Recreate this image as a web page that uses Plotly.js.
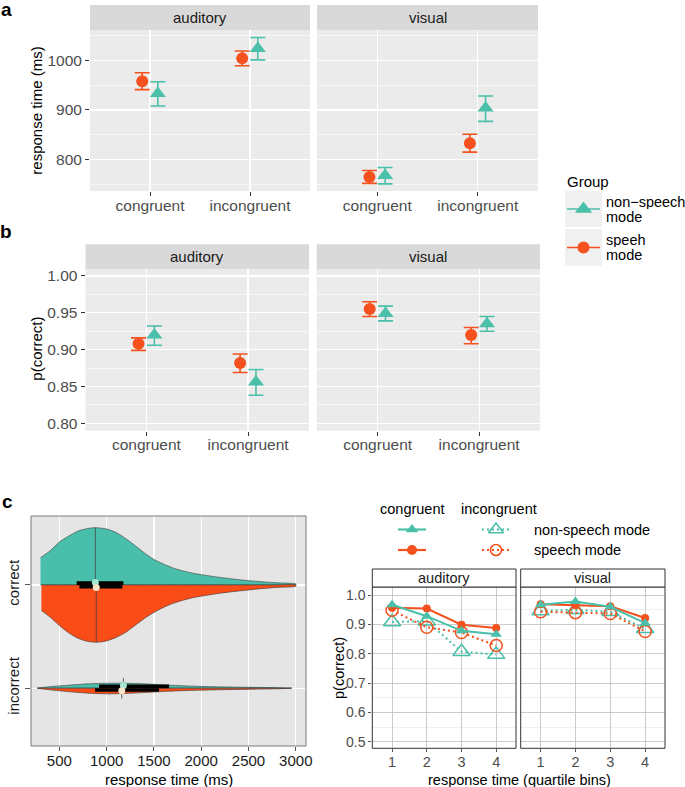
<!DOCTYPE html>
<html><head><meta charset="utf-8">
<script src="https://cdn.plot.ly/plotly-3.0.1.min.js"></script>
<style>html,body{margin:0;padding:0;background:#fff}#chart{width:685px;height:787px}</style>
</head><body><div id="chart"></div>
<script>
// ---------------- data ----------------
const conditions = ['congruent', 'incongruent'];
const modalities = ['auditory', 'visual'];
const groupLabels = [['non\u2212speech', 'mode'], ['speeh', 'mode']];

// panel a: response time (ms): mean, lower, upper
const rtAudSpeech = [958, 1004];
const rtAudSpeechLo = [941, 989];
const rtAudSpeechHi = [975, 1019];
const rtAudNon = [933, 1024];
const rtAudNonLo = [908, 1001];
const rtAudNonHi = [957, 1046];
const rtVisSpeech = [765, 833];
const rtVisSpeechLo = [752, 815];
const rtVisSpeechHi = [778, 851];
const rtVisNon = [768, 904];
const rtVisNonLo = [751, 877];
const rtVisNonHi = [784, 928];
const rtTicks = [800, 900, 1000];
const rtMinor = [750, 850, 950, 1050];

// panel b: p(correct): mean, lower, upper
const pcAudSpeech = [0.908, 0.882];
const pcAudSpeechLo = [0.899, 0.869];
const pcAudSpeechHi = [0.916, 0.894];
const pcAudNon = [0.920, 0.856];
const pcAudNonLo = [0.906, 0.838];
const pcAudNonHi = [0.932, 0.873];
const pcVisSpeech = [0.955, 0.920];
const pcVisSpeechLo = [0.945, 0.908];
const pcVisSpeechHi = [0.965, 0.930];
const pcVisNon = [0.949, 0.935];
const pcVisNonLo = [0.939, 0.925];
const pcVisNonHi = [0.959, 0.945];
const pcTicks = [0.80, 0.85, 0.90, 0.95, 1.00];
const pcTickText = ['0.80', '0.85', '0.90', '0.95', '1.00'];
const pcMinor = [0.825, 0.875, 0.925, 0.975];

// panel c (left): split violins of response time by accuracy
const violinCats = ['correct', 'incorrect'];
const corrNonRT = [300,400,500,600,700,800,880,1000,1100,1200,1300,1400,1500,1600,1700,1800,1900,2000,2200,2400,2600,2800,3000];
const corrNonW  = [.264,.329,.416,.474,.523,.547,.555,.542,.508,.450,.382,.310,.247,.203,.165,.138,.116,.100,.073,.051,.034,.021,.010];
const corrSpRT  = [310,400,500,600,700,800,890,1000,1100,1200,1300,1400,1500,1600,1700,1800,1900,2000,2200,2400,2600,2800,3000];
const corrSpW   = [.247,.310,.392,.465,.518,.547,.555,.542,.508,.460,.392,.324,.266,.218,.179,.150,.126,.109,.080,.058,.039,.024,.012];
const incNonRT  = [265,400,600,800,1000,1200,1400,1600,1800,2000,2400,2800,2955];
const incNonW   = [0,.015,.029,.042,.048,.048,.042,.032,.024,.017,.010,.005,0];
const incSpRT   = [265,400,600,800,1000,1200,1400,1600,1800,2000,2400,2800,2955];
const incSpW    = [0,.016,.034,.048,.055,.051,.042,.032,.024,.019,.012,.006,0];
// order: correct non-speech, correct speech, incorrect non-speech, incorrect speech
const boxQ1  = [683, 712, 920, 877];
const boxQ3  = [1177, 1166, 1660, 1554];
const boxMed = [880, 890, 1177, 1160];
const rtAxisTicks = [500, 1000, 1500, 2000, 2500, 3000];

// panel c (right): p(correct) by response-time quartile bin
const quartiles = [1, 2, 3, 4];
const audCongSpeech = [0.957, 0.954, 0.899, 0.888];
const audCongNon    = [0.967, 0.928, 0.878, 0.866];
const audIncSpeech  = [0.948, 0.890, 0.872, 0.828];
const audIncNon     = [0.908, 0.911, 0.807, 0.797];
const visCongSpeech = [0.969, 0.965, 0.962, 0.922];
const visCongNon    = [0.967, 0.978, 0.960, 0.904];
const visIncSpeech  = [0.943, 0.940, 0.937, 0.876];
const visIncNon     = [0.946, 0.950, 0.943, 0.885];
const qTicks = [0.5, 0.6, 0.7, 0.8, 0.9, 1.0];
const qTickText = ['0.5', '0.6', '0.7', '0.8', '0.9', '1.0'];
const qMinor = [0.55, 0.65, 0.75, 0.85, 0.95];

// ---------------- helpers ----------------
const W = 685, H = 787;
const X = p => p / W, Y = p => 1 - p / H;
const TEAL = '#4ABFA9', ORANGE = '#F4511E';
const VTEAL = '#49BEAA', VORANGE = '#FA4C17';
const FONT = 'Liberation Sans, Arial, Helvetica, sans-serif';
const traces = [];
const shapes = [];
const annotations = [];

function ann(text, x, y, opts) {
  annotations.push(Object.assign({text, x: X(x), y: Y(y), xref: 'paper', yref: 'paper',
    showarrow: false, xanchor: 'center', yanchor: 'middle',
    font: {family: FONT, size: 15, color: '#000'}}, opts || {}));
}
function rect(x0, y0, x1, y1, fill, line, layer) {
  shapes.push({type: 'rect', xref: 'paper', yref: 'paper', x0: X(x0), x1: X(x1), y0: Y(y1), y1: Y(y0),
    fillcolor: fill, line: line || {width: 0}, layer: layer || 'below'});
}

function errTrace(xa, ya, mean, lo, hi, color, symbol, size, off) {
  return {type: 'scatter', mode: 'markers', xaxis: xa, yaxis: ya,
    x: conditions.map((c, i) => i + 1 + off), y: mean,
    error_y: {type: 'data', symmetric: false, array: hi.map((h, i) => h - mean[i]),
      arrayminus: lo.map((l, i) => mean[i] - l), color: color, thickness: 1.6, width: 7.5},
    marker: {color: color, symbol: symbol, size: size, line: {width: 0}},
    showlegend: false, hoverinfo: 'skip', cliponaxis: false};
}

// ---------------- panel a & b ----------------
const D = 0.078;
traces.push(errTrace('x', 'y', rtAudSpeech, rtAudSpeechLo, rtAudSpeechHi, ORANGE, 'circle', 12, -D));
traces.push(errTrace('x', 'y', rtAudNon, rtAudNonLo, rtAudNonHi, TEAL, 'triangle-up', 14, D));
traces.push(errTrace('x2', 'y', rtVisSpeech, rtVisSpeechLo, rtVisSpeechHi, ORANGE, 'circle', 12, -D));
traces.push(errTrace('x2', 'y', rtVisNon, rtVisNonLo, rtVisNonHi, TEAL, 'triangle-up', 14, D));
traces.push(errTrace('x3', 'y3', pcAudSpeech, pcAudSpeechLo, pcAudSpeechHi, ORANGE, 'circle', 12, -D));
traces.push(errTrace('x3', 'y3', pcAudNon, pcAudNonLo, pcAudNonHi, TEAL, 'triangle-up', 14, D));
traces.push(errTrace('x4', 'y3', pcVisSpeech, pcVisSpeechLo, pcVisSpeechHi, ORANGE, 'circle', 12, -D));
traces.push(errTrace('x4', 'y3', pcVisNon, pcVisNonLo, pcVisNonHi, TEAL, 'triangle-up', 14, D));

const ggTick = {ticks: 'outside', ticklen: 4, tickcolor: '#333', tickwidth: 1,
  tickfont: {family: FONT, size: 15.5, color: '#4D4D4D'}, zeroline: false, showline: false, fixedrange: true};
function ggX(d0, d1, anchor) {
  return Object.assign({domain: [X(d0), X(d1)], anchor: anchor, range: [0.4, 2.6],
    tickvals: [1, 2], ticktext: conditions, showgrid: true, gridcolor: '#fff', gridwidth: 1.2,
    ticklabelstandoff: -4}, ggTick);
}

// ggplot panel backgrounds and strips
[[90, 310], [317, 538]].forEach((p, i) => {
  rect(p[0], 30, p[1], 191, '#EBEBEB');
  rect(p[0], 5, p[1], 30, '#D9D9D9');
  ann(modalities[i], (p[0] + p[1]) / 2, 17.5, {font: {family: FONT, size: 15, color: '#1A1A1A'}});
});
[[85.5, 309], [316.7, 540]].forEach((p, i) => {
  rect(p[0], 269.3, p[1], 430.7, '#EBEBEB');
  rect(p[0], 244.3, p[1], 269.3, '#D9D9D9');
  ann(modalities[i], (p[0] + p[1]) / 2, 256.8, {font: {family: FONT, size: 15, color: '#1A1A1A'}});
});

// ---------------- panel c left: violins ----------------
function interp(xs, ys, v) {
  for (let i = 0; i < xs.length - 1; i++) {
    if (v >= xs[i] && v <= xs[i + 1]) return ys[i] + (ys[i + 1] - ys[i]) * (v - xs[i]) / (xs[i + 1] - xs[i]);
  }
  return 0;
}
function halfViolin(rt, w, center, sign, color) {
  const xs = rt.concat(rt.slice().reverse());
  const ys = rt.map((_, i) => center + sign * w[i]).concat(rt.map(() => center));
  return {type: 'scatter', mode: 'lines', x: xs, y: ys, fill: 'toself', fillcolor: color,
    line: {color: '#3A3A3A', width: 0.6, shape: 'spline', smoothing: 0.7},
    xaxis: 'x5', yaxis: 'y5', hoverinfo: 'skip', showlegend: false};
}
const cCorr = violinCats.length - violinCats.indexOf('correct');
const cInc = violinCats.length - violinCats.indexOf('incorrect');
const vdefs = [
  [corrNonRT, corrNonW, cCorr, 1, VTEAL, '#A4E6D0'],
  [corrSpRT, corrSpW, cCorr, -1, VORANGE, '#FBE4C8'],
  [incNonRT, incNonW, cInc, 1, VTEAL, '#A4E6D0'],
  [incSpRT, incSpW, cInc, -1, VORANGE, '#FBE4C8']
];
vdefs.forEach(v => traces.push(halfViolin(v[0], v[1], v[2], v[3], v[4])));
const BT = 0.035;
vdefs.forEach((v, i) => {
  const c = v[2], s = v[3];
  const hgt = Math.max(interp(v[0], v[1], boxMed[i]), 0.1);
  traces.push({type: 'scatter', mode: 'lines', x: [boxMed[i], boxMed[i]], y: [c, c + s * hgt],
    line: {color: '#444', width: 0.8}, xaxis: 'x5', yaxis: 'y5', hoverinfo: 'skip', showlegend: false});
});
vdefs.forEach((v, i) => {
  const c = v[2], s = v[3];
  traces.push({type: 'scatter', mode: 'lines', x: [boxQ1[i], boxQ3[i], boxQ3[i], boxQ1[i], boxQ1[i]],
    y: [c, c, c + s * BT, c + s * BT, c], fill: 'toself', fillcolor: '#000', line: {width: 0, color: '#000'},
    xaxis: 'x5', yaxis: 'y5', hoverinfo: 'skip', showlegend: false});
});
vdefs.forEach((v, i) => {
  const c = v[2], s = v[3];
  traces.push({type: 'scatter', mode: 'markers', x: [boxMed[i]], y: [c + s * 0.025],
    marker: {color: v[5], size: 7, line: {width: 0}}, xaxis: 'x5', yaxis: 'y5', hoverinfo: 'skip', showlegend: false, cliponaxis: false});
});
rect(31, 516, 306, 746, '#E5E5E5');
rect(31, 516, 306, 746, 'rgba(0,0,0,0)', {color: '#7A7A7A', width: 1}, 'above');

// ---------------- panel c right: lines ----------------
function qTrace(xa, vals, color, dash, symbol, size, lw) {
  return {type: 'scatter', mode: 'lines+markers', xaxis: xa, yaxis: 'y6', x: quartiles, y: vals,
    line: {color: color, width: 2, dash: dash},
    marker: {color: color, symbol: symbol, size: size, line: {color: color, width: lw}},
    hoverinfo: 'skip', showlegend: false, cliponaxis: false};
}
const DOT = '2px,3px';
[['x6', audIncNon, audIncSpeech, audCongSpeech, audCongNon], ['x7', visIncNon, visIncSpeech, visCongSpeech, visCongNon]].forEach(p => {
  traces.push(qTrace(p[0], p[1], TEAL, DOT, 'triangle-up-open', 15, 1.5));
  traces.push(qTrace(p[0], p[2], ORANGE, DOT, 'circle-open', 12, 1.5));
  traces.push(qTrace(p[0], p[3], ORANGE, 'solid', 'circle', 8, 0));
  traces.push(qTrace(p[0], p[4], TEAL, 'solid', 'triangle-up', 10, 0));
});
[[372.3, 516], [520.7, 665]].forEach((p, i) => {
  rect(p[0], 587, p[1], 748.3, '#FFFFFF');
  rect(p[0], 587, p[1], 748.3, 'rgba(0,0,0,0)', {color: '#333', width: 1}, 'above');
  rect(p[0], 569, p[1], 587, '#FFFFFF', {color: '#333', width: 1}, 'above');
  ann(modalities[i], (p[0] + p[1]) / 2, 578, {font: {family: FONT, size: 14.5, color: '#1A1A1A'}});
});

// legend for panel c right (hidden axis in pixel units)
function key(x0, x1, y, color, dash, symbol, size, lw) {
  traces.push({type: 'scatter', mode: 'lines', x: [x0, x1], y: [y, y], xaxis: 'x8', yaxis: 'y8',
    line: {color: color, width: 2.2, dash: dash}, hoverinfo: 'skip', showlegend: false});
  traces.push({type: 'scatter', mode: 'markers', x: [(x0 + x1) / 2], y: [y], xaxis: 'x8', yaxis: 'y8',
    marker: {color: color, symbol: symbol, size: size, line: {color: color, width: lw}}, hoverinfo: 'skip', showlegend: false, cliponaxis: false});
}
key(398, 426, 529.5, TEAL, 'solid', 'triangle-up', 11, 0);
key(398, 426, 550, ORANGE, 'solid', 'circle', 10, 0);
key(482, 510, 529.5, TEAL, DOT, 'triangle-up-open', 13, 1.6);
key(482, 510, 550, ORANGE, DOT, 'circle-open', 11, 1.6);
ann('congruent', 413, 509, {font: {family: FONT, size: 14.5, color: '#000'}});
ann('incongruent', 499, 509, {font: {family: FONT, size: 14.5, color: '#000'}});
ann('non-speech mode', 532, 529.5, {xanchor: 'left', font: {family: FONT, size: 14.5, color: '#000'}});
ann('speech mode', 532, 550, {xanchor: 'left', font: {family: FONT, size: 14.5, color: '#000'}});

// legend for panels a/b
rect(565, 191, 602, 227, '#F0F0F0');
rect(565, 229.3, 602, 265.7, '#F0F0F0');
function key9(y, color, symbol, size) {
  traces.push({type: 'scatter', mode: 'lines', x: [567, 600], y: [y, y], xaxis: 'x9', yaxis: 'y9',
    line: {color: color, width: 1.6}, hoverinfo: 'skip', showlegend: false});
  traces.push({type: 'scatter', mode: 'markers', x: [583.5], y: [y], xaxis: 'x9', yaxis: 'y9',
    marker: {color: color, symbol: symbol, size: size, line: {width: 0}}, hoverinfo: 'skip', showlegend: false, cliponaxis: false});
}
key9(209, TEAL, 'triangle-up', 15);
key9(247.5, ORANGE, 'circle', 12);
const legFont = {family: FONT, size: 14.5, color: '#000'};
ann('Group', 565, 181, {xanchor: 'left', font: {family: FONT, size: 15, color: '#000'}});
ann(groupLabels[0][0], 604, 201.5, {xanchor: 'left', font: legFont, height: 15});
ann(groupLabels[0][1], 604, 217, {xanchor: 'left', font: legFont, height: 15});
ann(groupLabels[1][0], 604, 239.5, {xanchor: 'left', font: legFont, height: 15});
ann(groupLabels[1][1], 604, 255, {xanchor: 'left', font: legFont, height: 15});

// axis titles and panel letters
ann('response time (ms)', 36.7, 111, {textangle: -90});
ann('p(correct)', 36.7, 349, {textangle: -90});
ann('response time (ms)', 168.5, 779);
ann('response time (quartile bins)', 519, 780, {font: {family: FONT, size: 14.5, color: '#000'}});
ann('p(correct)', 339, 668, {textangle: -90, font: {family: FONT, size: 14.5, color: '#000'}});
ann('<b>a</b>', 6, 9, {font: {family: FONT, size: 19, color: '#000'}});
ann('<b>b</b>', 6, 232, {font: {family: FONT, size: 19, color: '#000'}});
ann('<b>c</b>', 7, 501, {font: {family: FONT, size: 19, color: '#000'}});

// ---------------- layout ----------------
const layout = {
  width: W, height: H, margin: {l: 0, r: 0, t: 0, b: 0},
  paper_bgcolor: '#fff', plot_bgcolor: 'rgba(0,0,0,0)', showlegend: false,
  font: {family: FONT},
  xaxis: ggX(90, 310, 'y'),
  xaxis2: ggX(317, 538, 'y'),
  yaxis: Object.assign({domain: [Y(191), Y(30)], anchor: 'x', range: [736.6, 1061.2], tickvals: rtTicks,
    showgrid: true, gridcolor: '#fff', gridwidth: 1.2,
    minor: {tickvals: rtMinor, showgrid: true, gridcolor: '#fff', gridwidth: 0.6, ticks: ''}}, ggTick),
  xaxis3: ggX(85.5, 309, 'y3'),
  xaxis4: ggX(316.7, 540, 'y3'),
  yaxis3: Object.assign({domain: [Y(430.7), Y(269.3)], anchor: 'x3', range: [0.790, 1.009], tickvals: pcTicks, ticktext: pcTickText,
    showgrid: true, gridcolor: '#fff', gridwidth: 1.2,
    minor: {tickvals: pcMinor, showgrid: true, gridcolor: '#fff', gridwidth: 0.6, ticks: ''}}, ggTick),
  xaxis5: {domain: [X(31), X(306)], anchor: 'y5', range: [200, 3108], tickvals: rtAxisTicks,
    showgrid: true, gridcolor: '#fff', gridwidth: 1.2, zeroline: false, showline: false, ticklabelstandoff: -3,
    ticks: 'outside', ticklen: 4, tickcolor: '#555', tickfont: {family: FONT, size: 15, color: '#1A1A1A'}},
  yaxis5: {domain: [Y(746), Y(516)], anchor: 'x5', range: [0.44, 2.668], tickvals: [cInc, cCorr],
    ticktext: ['incorrect', 'correct'], tickangle: -90,
    showgrid: true, gridcolor: '#fff', gridwidth: 1.2, zeroline: false, showline: false,
    ticks: 'outside', ticklen: 5, tickcolor: '#555', tickfont: {family: FONT, size: 15, color: '#1A1A1A'}},
  xaxis6: {domain: [X(372.3), X(516)], anchor: 'y6', range: [0.43, 4.57], tickvals: quartiles,
    showgrid: true, gridcolor: '#C6C6C6', gridwidth: 0.9, zeroline: false, showline: false, ticklabelstandoff: -3,
    ticks: 'outside', ticklen: 3, tickcolor: '#555', tickfont: {family: FONT, size: 14.5, color: '#4D4D4D'}},
  xaxis7: {domain: [X(520.7), X(665)], anchor: 'y6', range: [0.43, 4.57], tickvals: quartiles,
    showgrid: true, gridcolor: '#C6C6C6', gridwidth: 0.9, zeroline: false, showline: false, ticklabelstandoff: -3,
    ticks: 'outside', ticklen: 3, tickcolor: '#555', tickfont: {family: FONT, size: 14.5, color: '#4D4D4D'}},
  yaxis6: {domain: [Y(748.3), Y(587)], anchor: 'x6', range: [0.4775, 1.0275], tickvals: qTicks, ticktext: qTickText,
    showgrid: true, gridcolor: '#C6C6C6', gridwidth: 0.9, zeroline: false, showline: false,
    minor: {tickvals: qMinor, showgrid: true, gridcolor: '#E6E6E6', gridwidth: 0.6, ticks: ''},
    ticks: 'outside', ticklen: 3, tickcolor: '#555', tickfont: {family: FONT, size: 14, color: '#4D4D4D'}},
  xaxis8: {domain: [X(360), X(560)], anchor: 'y8', range: [360, 560], visible: false},
  yaxis8: {domain: [Y(565), Y(495)], anchor: 'x8', range: [565, 495], visible: false},
  xaxis9: {domain: [X(560), X(640)], anchor: 'y9', range: [560, 640], visible: false},
  yaxis9: {domain: [Y(270), Y(185)], anchor: 'x9', range: [270, 185], visible: false},
  shapes: shapes, annotations: annotations
};
Plotly.newPlot('chart', traces, layout, {staticPlot: true, displayModeBar: false});
</script></body></html>
